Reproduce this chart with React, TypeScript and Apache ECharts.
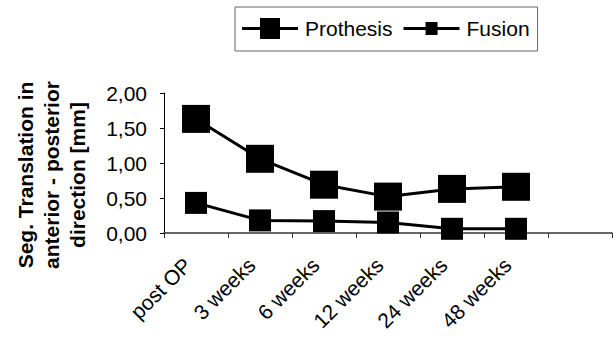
import React, { useEffect, useRef } from "react";
import * as echarts from "echarts";

const categories = ["post OP", "3 weeks", "6 weeks", "12 weeks", "24 weeks", "48 weeks", ""];
const prothesis = [1.63, 1.06, 0.69, 0.52, 0.63, 0.66];
const fusion = [0.43, 0.18, 0.17, 0.15, 0.06, 0.06];
const yTicks = { min: 0, max: 2, interval: 0.5 };
const yTitle = ["Seg. Translation in", "anterior - posterior", "direction [mm]"];

export default function App() {
  const ref = useRef<HTMLDivElement>(null);
  useEffect(() => {
    const chart = echarts.init(ref.current!, null, { renderer: "svg" });
    const font = "Arial, 'Liberation Sans', sans-serif";
    chart.setOption({
      animation: false,
      textStyle: { fontFamily: font },
      legend: {
        left: 235,
        top: 7,
        padding: [11, 8, 12, 7],
        itemGap: 11,
        itemWidth: 56,
        itemHeight: 21,
        borderColor: "#666",
        borderWidth: 1,
        textStyle: { fontSize: 21, color: "#000", fontFamily: font, padding: [0, 0, 0, 2] },
        data: [
          { name: "Prothesis", icon: "path://M0,9H18V0H38V9H56V12H38V21H18V12H0Z" },
          { name: "Fusion", icon: "path://M0,9H22V4H34V9H56V12H34V17H22V12H0Z" },
        ],
      },
      grid: { left: 164, right: 2, top: 93, bottom: 108, containLabel: false },
      graphic: [
        {
          type: "text",
          x: 51,
          y: 175,
          rotation: Math.PI / 2,
          style: {
            text: yTitle.join("\n"),
            font: `bold 21px ${font}`,
            fill: "#000",
            align: "center",
            verticalAlign: "middle",
            lineHeight: 26,
          },
        },
      ],
      xAxis: {
        type: "category",
        data: categories,
        boundaryGap: true,
        axisLine: { lineStyle: { color: "#333", width: 1.5 } },
        axisTick: { show: true, interval: 0, length: 5, lineStyle: { color: "#333" } },
        axisLabel: {
          interval: 0,
          rotate: 45,
          fontSize: 21,
          color: "#000",
          margin: 20,
          padding: [0, 12, 0, 0],
          fontFamily: font,
        },
        splitLine: { show: false },
      },
      yAxis: {
        type: "value",
        min: yTicks.min,
        max: yTicks.max,
        interval: yTicks.interval,
        axisLine: { show: true, lineStyle: { color: "#000", width: 1 } },
        axisTick: { show: true, length: 4, lineStyle: { color: "#000" } },
        axisLabel: {
          fontSize: 21,
          color: "#000",
          margin: 17,
          fontFamily: font,
          formatter: (v: number) => v.toFixed(2).replace(".", ","),
        },
        splitLine: { show: false },
      },
      series: [
        {
          name: "Prothesis",
          type: "line",
          data: prothesis,
          symbol: "rect",
          symbolSize: 28,
          itemStyle: { color: "#000" },
          lineStyle: { color: "#000", width: 3 },
        },
        {
          name: "Fusion",
          type: "line",
          data: fusion,
          symbol: "rect",
          symbolSize: 22,
          itemStyle: { color: "#000" },
          lineStyle: { color: "#000", width: 3 },
        },
      ],
    });
    return () => chart.dispose();
  }, []);
  return <div ref={ref} style={{ width: 614, height: 341, position: "absolute", left: 0, top: 0, background: "#fff" }} />;
}
